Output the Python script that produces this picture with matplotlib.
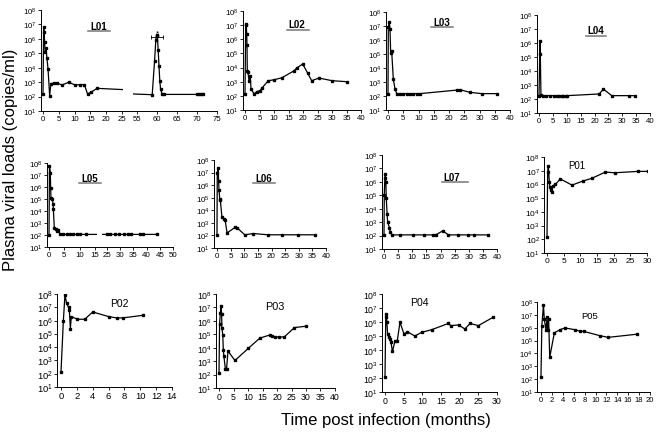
import numpy as np
import matplotlib.pyplot as plt
from matplotlib.ticker import NullLocator
from matplotlib.lines import Line2D

plt.rcParams['font.family'] = ['Liberation Sans', 'DejaVu Sans']
plt.rcParams['mathtext.fontset'] = 'custom'
plt.rcParams['mathtext.rm'] = 'Liberation Sans'
plt.rcParams['axes.linewidth'] = 0.7

# ---- data: time (months) and log10 viral load (copies/ml) ----
l01_t = [0, 0.2, 0.4, 0.5, 0.7, 0.95, 1.25, 1.6, 2.1, 2.5, 3.4, 4.4, 6.0, 8.1, 10.2, 11.8,
         13.1, 14.1, 15.2, 17.1, 58.8, 59.4, 59.7, 59.9, 60.1, 60.3, 60.5, 60.7, 60.9, 61.3,
         61.8, 70.0, 70.6, 71.1, 71.6]
l01_log = [2.18, 6.8, 6.45, 5.76, 5.07, 5.35, 4.65, 3.9, 2.07, 2.9, 2.92, 2.94, 2.8, 2.99, 2.8,
           2.83, 2.83, 2.18, 2.3, 2.57, 2.13, 4.5, 5.9, 6.3, 6.2, 5.2, 4.1, 3.1, 2.5, 2.15,
           2.15, 2.15, 2.15, 2.15, 2.15]

l02_t = [0, 0.24, 0.45, 0.59, 0.69, 0.79, 1.03, 1.38, 1.83, 2.07, 3.2, 4.03, 5.17, 5.76, 8.0,
         10.1, 12.7, 17.0, 17.8, 19.9, 21.6, 23.0, 25.5, 30.1, 35.3]
l02_log = [2.13, 7.08, 7.0, 6.37, 5.6, 3.78, 3.66, 3.07, 3.38, 2.48, 2.13, 2.3, 2.36, 2.53, 3.07,
           3.14, 3.28, 3.78, 3.97, 4.25, 3.61, 3.07, 3.26, 3.07, 3.0]

l03_t = [0, 0.1, 0.4, 0.65, 0.87, 1.2, 1.75, 2.3, 2.85, 3.9, 5.0, 6.1, 7.2, 8.3, 9.4, 10.5,
         22.5, 23.6, 26.9, 30.7, 35.6]
l03_log = [2.17, 6.9, 7.3, 6.8, 5.1, 5.2, 3.2, 2.5, 2.17, 2.17, 2.17, 2.17, 2.17, 2.17, 2.17,
           2.17, 2.42, 2.45, 2.26, 2.17, 2.17]

l04_t = [0, 0.36, 0.48, 0.7, 1.56, 2.5, 3.96, 5.4, 6.4, 7.3, 8.2, 8.8, 9.6, 10.2, 21.7, 23.2,
         26.2, 32.5, 34.6]
l04_log = [2.24, 6.16, 5.2, 2.29, 2.24, 2.24, 2.24, 2.24, 2.24, 2.24, 2.24, 2.24, 2.24, 2.24,
           2.36, 2.71, 2.24, 2.24, 2.24]

l05_t = [0, 0.15, 0.43, 0.54, 0.65, 1.09, 1.3, 1.41, 1.74, 2.17, 2.7, 3.0, 3.6, 4.7, 5.8, 6.8,
         7.9, 9.0, 10.1, 12.0, 25.0, 26.2, 28.1, 29.6, 31.6, 33.1, 34.1, 37.5, 38.5, 43.8]
l05_log = [2.03, 7.75, 7.2, 5.9, 5.05, 5.0, 4.6, 4.2, 2.55, 2.5, 2.36, 2.44, 2.08, 2.05, 2.05,
           2.05, 2.05, 2.05, 2.05, 2.05, 2.05, 2.05, 2.05, 2.05, 2.05, 2.05, 2.05, 2.05, 2.05,
           2.05]

l06_t = [0, 0.1, 0.45, 0.6, 0.75, 1.0, 1.2, 1.8, 2.6, 3.0, 3.7, 6.7, 7.4, 10.2, 13.3, 18.8,
         23.7, 29.8, 36.0]
l06_log = [2.05, 7.0, 7.4, 6.3, 5.6, 4.9, 4.85, 3.5, 3.3, 3.2, 2.2, 2.65, 2.6, 2.05, 2.15, 2.05,
           2.05, 2.05, 2.05]

l07_t = [0, 0.1, 0.3, 0.5, 0.65, 0.8, 1.1, 1.3, 1.9, 2.2, 2.8, 5.5, 10.1, 14.1, 17.3, 18.3,
         20.8, 22.8, 26.3, 29.8, 31.7, 36.7]
l07_log = [2.05, 5.0, 6.3, 6.55, 6.0, 4.8, 3.6, 3.0, 2.6, 2.3, 2.05, 2.05, 2.05, 2.05, 2.05,
           2.05, 2.35, 2.05, 2.05, 2.05, 2.05, 2.05]

p01_t = [0, 0.2, 0.4, 0.7, 0.9, 1.2, 1.4, 1.8, 2.5, 4.0, 7.5, 10.8, 13.5, 17.5, 20.3, 27.3, 30.2]
p01_log = [2.15, 6.9, 7.35, 6.15, 5.8, 5.6, 5.45, 5.9, 6.0, 6.4, 5.95, 6.25, 6.45, 6.9, 6.85,
           6.95, 6.95]

p02_t = [0, 0.3, 0.5, 0.7, 0.95, 1.05, 1.18, 1.3, 2.07, 3.0, 4.0, 6.0, 7.0, 7.76, 10.4]
p02_log = [2.15, 6.0, 7.95, 7.3, 7.0, 6.8, 5.4, 6.3, 6.1, 6.1, 6.65, 6.3, 6.2, 6.2, 6.4]

p03_t = [0, 0.2, 0.46, 0.7, 0.9, 1.0, 1.3, 1.5, 1.7, 2.2, 2.6, 3.1, 5.5, 10.1, 14.1, 17.6,
         18.2, 19.3, 20.7, 22.5, 26.0, 30.0]
p03_log = [2.1, 5.75, 6.6, 7.1, 6.5, 5.5, 4.95, 3.8, 3.35, 2.4, 2.4, 3.75, 3.05, 3.95, 4.72,
           4.95, 4.9, 4.8, 4.8, 4.8, 5.5, 5.6]

p04_t = [0, 0.2, 0.36, 0.5, 0.7, 1.0, 1.3, 1.6, 2.0, 2.7, 3.3, 4.0, 5.1, 6.0, 8.0, 9.8, 12.5,
         17.0, 17.6, 19.7, 21.4, 22.8, 25.0, 28.9]
p04_log = [2.1, 6.33, 6.57, 5.98, 5.14, 4.9, 4.8, 4.55, 3.9, 4.67, 4.67, 5.98, 5.14, 5.3, 5.0,
           5.26, 5.45, 5.9, 5.74, 5.79, 5.5, 5.9, 5.74, 6.33]

p05_t = [0, 0.15, 0.45, 0.6, 0.9, 1.1, 1.2, 1.4, 1.6, 2.45, 3.5, 4.4, 6.2, 7.2, 7.8, 10.8,
         12.35, 17.7]
p05_log = [2.2, 6.15, 7.75, 6.7, 5.8, 6.8, 5.8, 6.7, 3.7, 5.6, 5.85, 5.98, 5.85, 5.72, 5.72,
           5.38, 5.25, 5.5]

# L01 bracket (months) and its height (log10)
l01_bracket = [58.6, 61.4]
l01_bracket_log = 6.15

W, H = 657, 435
fig = plt.figure(figsize=(W / 100, H / 100), dpi=100)


def make_ax(left, right, top, bot, ref_a, ref_b):
    # ref_a / ref_b: (value, pixel) pairs on the x axis
    scale = (ref_b[1] - ref_a[1]) / (ref_b[0] - ref_a[0])
    ax = fig.add_axes([left / W, 1 - bot / H, (right - left) / W, (bot - top) / H])
    ax.set_xlim(ref_a[0] + (left - ref_a[1]) / scale, ref_a[0] + (right - ref_a[1]) / scale)
    ax.patch.set_visible(False)
    return ax


def style(ax, ticks, fs, yaxis=True):
    ax.set_yscale('log')
    ax.set_ylim(10, 1e8)
    ax.set_yticks([10.0 ** k for k in range(1, 9)])
    ax.yaxis.set_minor_locator(NullLocator())
    ax.set_xticks(ticks)
    ax.spines[['top', 'right']].set_visible(False)
    ax.tick_params(direction='out', length=2, width=0.6, pad=1, labelsize=fs)
    if not yaxis:
        ax.spines['left'].set_visible(False)
        ax.tick_params(axis='y', left=False, labelleft=False)


def trace(ax, t, logv):
    ax.plot(t, 10.0 ** np.array(logv), '-s', color='black', lw=0.9, ms=1.7)


# ---- row 1 ----
ax = make_ax(41, 129, 11, 112, (0, 43), (25, 122))
trace(ax, l01_t, l01_log)
style(ax, range(0, 30, 5), 5.6)
ax.axvspan(25.4, 30, color='white', lw=0, zorder=2.2)
ax = make_ax(129, 217, 11, 112, (55, 137), (75, 217))
trace(ax, l01_t, l01_log)
style(ax, range(55, 80, 5), 5.6, yaxis=False)
ax.axvspan(50, 54, color='white', lw=0, zorder=2.2)
ax.plot(l01_bracket, [10 ** l01_bracket_log] * 2, color='black', lw=0.6)
ax.plot(l01_bracket, [10 ** l01_bracket_log] * 2, '|', color='black', ms=3, mew=0.6)
ax.text(np.mean(l01_bracket), 10 ** (l01_bracket_log + 0.05), '*', ha='center', va='bottom',
        fontsize=6)

ax = make_ax(243, 361, 12, 111, (0, 245), (40, 361))
trace(ax, l02_t, l02_log)
style(ax, range(0, 45, 5), 5.6)

ax = make_ax(386, 510, 13, 111, (0, 388), (40, 510))
trace(ax, l03_t, l03_log)
style(ax, range(0, 45, 5), 5.6)

ax = make_ax(537, 650, 16, 114, (0, 539), (40, 650))
trace(ax, l04_t, l04_log)
style(ax, range(0, 45, 5), 5.6)

# ---- row 2 ----
ax = make_ax(47, 101, 164, 248, (0, 49), (15, 95))
trace(ax, l05_t, l05_log)
style(ax, range(0, 20, 5), 5.7)
ax.axvspan(15.7, 20, color='white', lw=0, zorder=2.2)
ax = make_ax(101, 173, 164, 248, (25, 107), (50, 173))
trace(ax, l05_t, l05_log)
style(ax, range(25, 55, 5), 5.7, yaxis=False)
ax.axvspan(20, 23.0, color='white', lw=0, zorder=2.2)

ax = make_ax(214, 326, 161, 249, (0, 217), (40, 326))
trace(ax, l06_t, l06_log)
style(ax, range(0, 45, 5), 5.8)

ax = make_ax(382, 497, 156, 250, (0, 384), (40, 497))
trace(ax, l07_t, l07_log)
style(ax, range(0, 45, 5), 5.8)

ax = make_ax(544, 647, 158, 254, (0, 547), (30, 647))
trace(ax, p01_t, p01_log)
style(ax, range(0, 35, 5), 6.0)

# ---- row 3 ----
ax = make_ax(57, 172, 295, 388, (0, 61), (14, 172))
trace(ax, p02_t, p02_log)
style(ax, range(0, 16, 2), 6.8)

ax = make_ax(216, 335, 295, 389, (0, 219), (40, 335))
trace(ax, p03_t, p03_log)
style(ax, range(0, 45, 5), 6.3)

ax = make_ax(382, 497, 295, 393, (0, 385), (30, 497))
trace(ax, p04_t, p04_log)
style(ax, range(0, 35, 5), 6.3)

ax = make_ax(537, 650, 303, 393, (0, 541), (20, 650))
trace(ax, p05_t, p05_log)
style(ax, range(0, 22, 2), 5.5)

# ---- panel names ----
names = [('L01', 99, 27, 7, True, (88, 110, 32)),
         ('L02', 297, 25, 7, True, (287, 309, 31)),
         ('L03', 442, 23, 7, True, (431, 453, 28)),
         ('L04', 596, 31, 7, True, (586, 606, 37)),
         ('L05', 90, 179, 7, True, (79, 101, 184)),
         ('L06', 264, 179, 7, True, (253, 275, 184)),
         ('L07', 452, 178, 7, True, (442, 468, 183)),
         ('P01', 577, 166, 7, False, None),
         ('P02', 119, 304, 7.5, False, None),
         ('P03', 275, 307, 7.8, False, None),
         ('P04', 419, 303, 7.6, False, None),
         ('P05', 590, 317, 6.8, False, None)]
for label, cx, cy, fs, bold, line in names:
    fig.text(cx / W, 1 - cy / H, label, ha='center', va='center', fontsize=fs,
             fontweight='bold' if bold else 'normal')
    if line:
        fig.add_artist(Line2D([line[0] / W, line[1] / W], [1 - line[2] / H] * 2,
                              transform=fig.transFigure, color='#777777', lw=1.1))

fig.text(11 / W, 1 - 160 / H, 'Plasma viral loads (copies/ml)', rotation=90, ha='center',
         va='center', fontsize=12)
fig.text(386 / W, 1 - 421 / H, 'Time post infection (months)', ha='center', va='center',
         fontsize=12)

fig.savefig('out.png', dpi=100)
